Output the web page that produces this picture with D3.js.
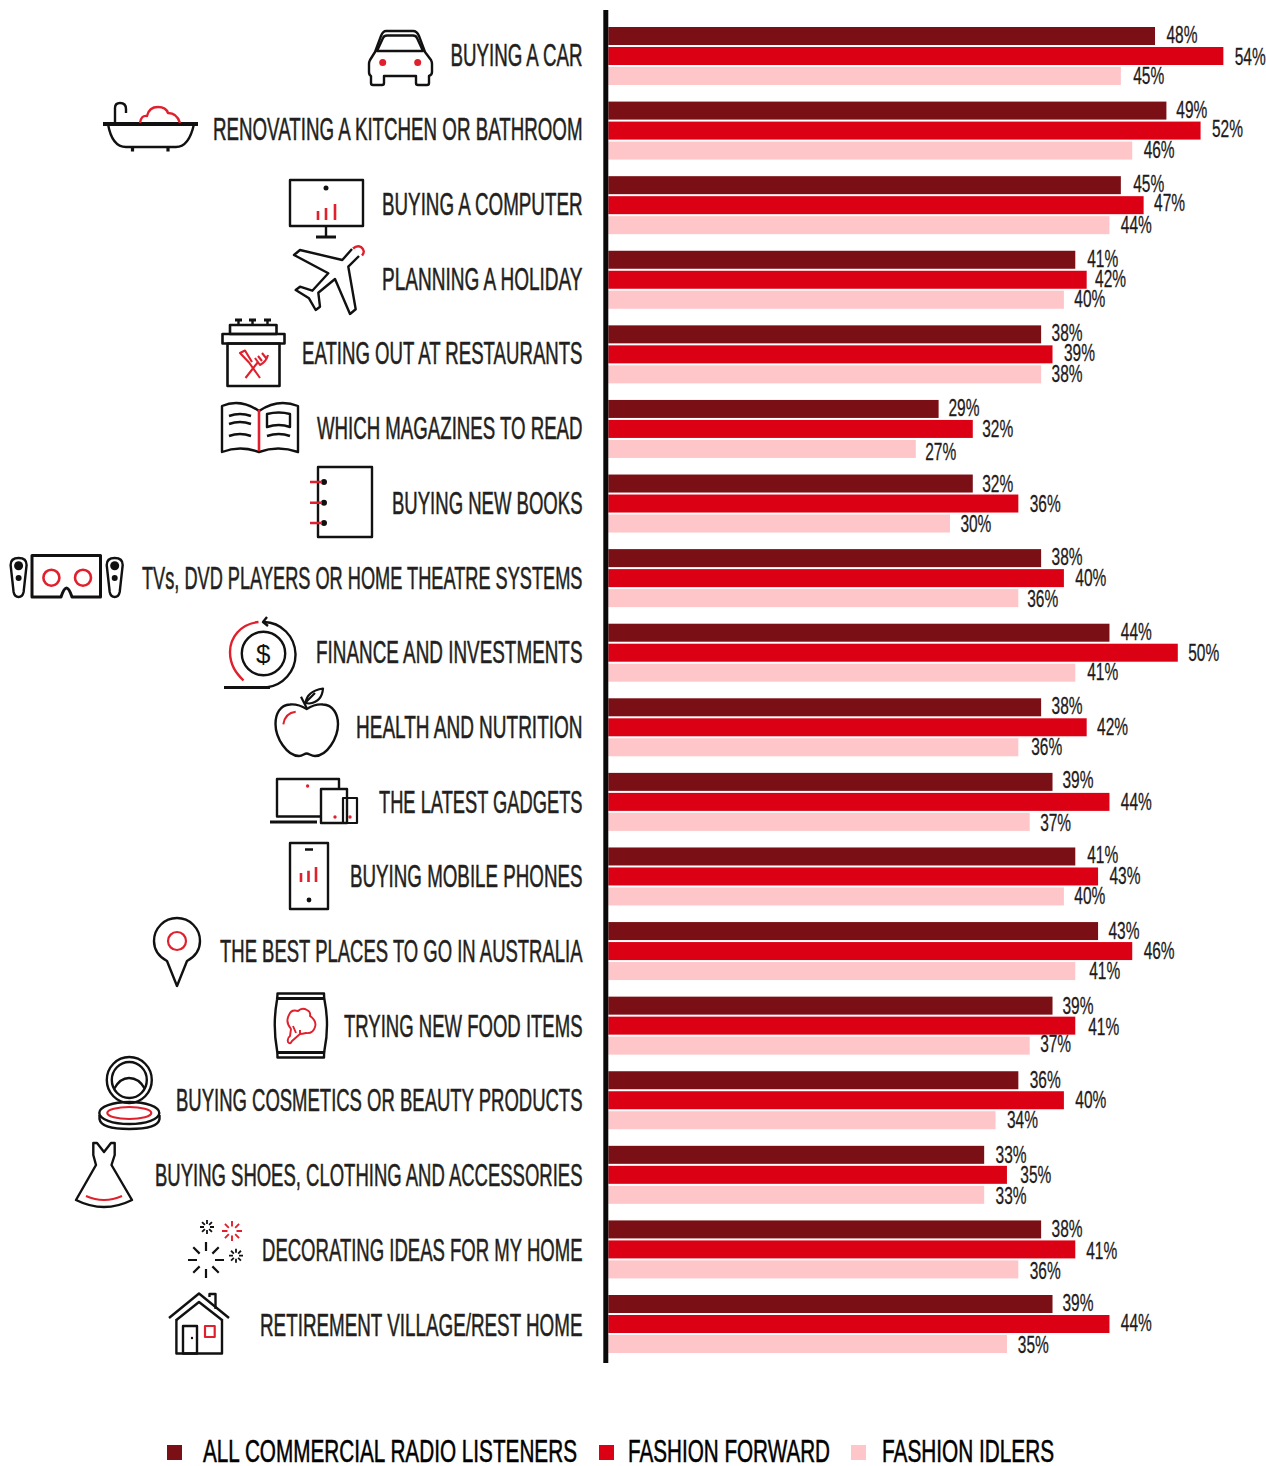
<!DOCTYPE html>
<html><head><meta charset="utf-8">
<style>html,body{margin:0;padding:0;background:#fff}svg{display:block}
text{font-family:"Liberation Sans Narrow","Liberation Sans",sans-serif}</style>
<script src="https://cdn.jsdelivr.net/npm/d3@7/dist/d3.min.js"></script></head><body>
<svg id="c" width="1266" height="1466"></svg>
<script>
const categories=["BUYING A CAR","RENOVATING A KITCHEN OR BATHROOM","BUYING A COMPUTER","PLANNING A HOLIDAY","EATING OUT AT RESTAURANTS","WHICH MAGAZINES TO READ","BUYING NEW BOOKS","TVs, DVD PLAYERS OR HOME THEATRE SYSTEMS","FINANCE AND INVESTMENTS","HEALTH AND NUTRITION","THE LATEST GADGETS","BUYING MOBILE PHONES","THE BEST PLACES TO GO IN AUSTRALIA","TRYING NEW FOOD ITEMS","BUYING COSMETICS OR BEAUTY PRODUCTS","BUYING SHOES, CLOTHING AND ACCESSORIES","DECORATING IDEAS FOR MY HOME","RETIREMENT VILLAGE/REST HOME"];
const seriesNames=["ALL COMMERCIAL RADIO LISTENERS","FASHION FORWARD","FASHION IDLERS"];
const allListeners=[48,49,45,41,38,29,32,38,44,38,39,41,43,39,36,33,38,39];
const fashionForward=[54,52,47,42,39,32,36,40,50,42,44,43,46,41,40,35,41,44];
const fashionIdlers=[45,46,44,40,38,27,30,36,41,36,37,40,41,37,34,33,36,35];
const seriesValues=[allListeners,fashionForward,fashionIdlers];

const colors=["#7a1015","#dc0014","#ffc6c9"];
const labelLeft=[450.5,213,382,382,302,317,392,142,316,356,379,350,220,344,176,155,262,260];
// small hand-placement nudges of the value labels, per row and series
const nudgeX=[[0,0,1],[-1.5,0,0],[1,-1,0],[.5,-3,-1],[-1,0,-1],[-1.5,-2,-2],[-2,0,-1],[-1,0,-2.5],[0,-1,.5],[-1,-1,1.5],[-1.5,0,-1],[.5,0,-1],[-1,0,2.5],[-1.5,1.5,-1],[0,0,0],[0,2,0],[-1,-.5,0],[-1.5,0,-.5]];
const nudgeY=[[-1,1,0],[-.5,-1.5,-.5],[-1,-2,0],[-1,-1,-1],[-1,-1,0],[-1,0,3],[0,0,0],[-1,0,1],[-1,0,-1],[-1,0,0],[-2,0,1],[-1,0,0],[0,0,0],[0,1,-2],[0,0,0],[0,0,1],[0,1.5,1.5],[-1,-1,1]];
const svg=d3.select("#c");
const x=d3.scaleLinear().domain([0,54]).range([608.3,608.3+54*11.39]);
const y0=d3.scaleBand().domain(categories).range([27,1353]).paddingInner(0.2225);
const y1=d3.scaleBand().domain(d3.range(3)).range([0,y0.bandwidth()]).paddingInner(0.1);
const labelY=d3.scalePoint().domain(categories).range([55,1325]);

const INK="#231f20";
const rows=svg.selectAll("g.row").data(categories).join("g").attr("class","row").attr("transform",d=>`translate(0,${y0(d)})`);
rows.each(function(cat,i){
  const g=d3.select(this);
  const recs=seriesValues.map((s,k)=>({k,v:s[i]}));
  g.selectAll("rect").data(recs).join("rect").attr("x",x(0)).attr("y",d=>y1(d.k)).attr("width",d=>x(d.v)-x(0)).attr("height",y1.bandwidth()).attr("fill",d=>colors[d.k]);
  g.selectAll("text.v").data(recs).join("text").attr("class","v").attr("x",d=>x(d.v)+11.4+nudgeX[i][d.k]).attr("y",d=>y1(d.k)+y1.bandwidth()/2+8+nudgeY[i][d.k])
    .attr("textLength",31).attr("lengthAdjust","spacingAndGlyphs").attr("font-size",23).attr("fill","#1f1b1c").attr("stroke","#1f1b1c").attr("stroke-width",.3).text(d=>d.v+"%");
});
svg.append("g").selectAll("text").data(categories).join("text").attr("x",(d,i)=>labelLeft[i]).attr("y",d=>labelY(d)+10.6)
  .attr("textLength",(d,i)=>582.5-labelLeft[i]).attr("lengthAdjust","spacingAndGlyphs")
  .attr("font-size",32).attr("fill",INK).attr("stroke",INK).attr("stroke-width",.55).text(d=>d);
// axis
svg.append("line").attr("x1",605.8).attr("x2",605.8).attr("y1",10).attr("y2",1363).attr("stroke","#0a0a0a").attr("stroke-width",5);
// legend
const legendSq=[167,599,851],legendTx=[[203,577],[628,830],[882,1054]];
seriesNames.forEach((n,k)=>{
  svg.append("rect").attr("x",legendSq[k]).attr("y",1445).attr("width",15).attr("height",15).attr("fill",colors[k]);
  svg.append("text").attr("x",legendTx[k][0]).attr("y",1462).attr("textLength",legendTx[k][1]-legendTx[k][0]).attr("lengthAdjust","spacingAndGlyphs")
    .attr("font-size",32).attr("fill","#000").attr("stroke","#000").attr("stroke-width",.55).text(n);
});

// icons (decorative line art)
const K="#111",R="#e0202c";
const ic=svg.append("g").attr("fill","none").attr("stroke-linejoin","round");
const P=(d,c=K,w=2.4)=>ic.append("path").attr("d",d).attr("stroke",c).attr("stroke-width",w);
const C=(cx,cy,r,c=K,w=2.4)=>ic.append("circle").attr("cx",cx).attr("cy",cy).attr("r",r).attr("stroke",c).attr("stroke-width",w);
const D=(cx,cy,r,c=K)=>ic.append("circle").attr("cx",cx).attr("cy",cy).attr("r",r).attr("fill",c);
const Q=(a,b,w,h,c=K,sw=2.4)=>ic.append("rect").attr("x",a).attr("y",b).attr("width",w).attr("height",h).attr("stroke",c).attr("stroke-width",sw);
const E=(cx,cy,rx,ry,c=K,w=2.4)=>ic.append("ellipse").attr("cx",cx).attr("cy",cy).attr("rx",rx).attr("ry",ry).attr("stroke",c).attr("stroke-width",w);
// car
P("M386,31H413Q417,31 419,36L425,52L431,60Q432,62 432,64V72Q432,75 429,76V83Q429,85 427,85H418Q416,85 416,83V76H384V83Q384,85 382,85H373Q371,85 371,83V76Q369,75 369,72V64Q369,62 370,60L375,52L381,36Q383,31 386,31Z");
P("M377,51L383,38Q384,35.5 387,35.5H413Q416,35.5 417,38L423,51Z");D(382.7,62.5,3.5,R);D(417.7,62.5,3.5,R);
// bath
P("M103,124H198",K,4);P("M108,124Q112,147 126,147H176Q189,147 194,124");P("M132.5,147V151.5M168,147V151.5",K,3.2);
P("M115,124V108Q115,103 120,103Q126,103 126,109V113");
P("M140,123Q141,115 147,116Q149,107 158,107Q166,107 168,113Q177,113 180,123",R);
// computer
Q(290,180,73,46);D(326,188,2.5);P("M318,220V211M326,220V208M335,220V204",R,2.6);P("M326,226V237");P("M316,237H336",K,3);
// plane
P("M352,249L342.3,260L300,250L294,255L328.3,273.3L312.3,290.7L300,286.7L295.7,290L309,298.3L315.7,310L320,306.7L318.3,292.7L335,279L350,314L355.7,309.3L348.3,266.7L359,256");
P("M353,248.5Q357,245 361,247Q366,251 362,255.5",R,2.4);
// restaurant jar
Q(222.5,334,62,9.5,K,2.6);Q(230,325,46.5,9,K,2.6);Q(227.5,343.5,52,42.5,K,2.6);
P("M238.5,325V320M252.5,325V320M267.5,325V320");P("M235,320H242M249,320H256M264,320H271",K,3);
P("M260,378L249,362.5L240,353L245,350.5L252,362",R,2.1);
P("M245.5,378L258,362M255,358L260,365Q266,362 268,355M258,356L262,361M262,353L266,358",R,2.1);
// magazine
P("M259,411Q240,398 222,406V452Q240,445 259,452Q278,445 298,452V406Q278,398 259,411");P("M259,410V451",R,2.6);
P("M229,416Q240,412 251,416M229,424Q240,420 251,424M229,436Q240,432 251,436M267,436Q279,432 290,436");P("M267,427V414Q279,411 290,414V427Q279,423 267,427Z");
// book
Q(318,467,54,70);D(324,482,3);D(324,502.7,3);D(324,523,3);P("M310,482H322M310,502.7H322M310,523H322",R,2.6);
// VR
P("M32,555.5H100.5V597H72Q69,588 66.5,588Q64,588 61,597H32Z",K,3);C(51.4,577.7,8,R,2.6);C(83,577.7,8,R,2.6);
[18.6,114.7].forEach(a=>{P(`M${a-8},565Q${a-8},558 ${a},558Q${a+8},558 ${a+8},565L${a+5},592Q${a+4},597 ${a},597Q${a-4},597 ${a-5},592Z`,K,2.4);D(a,565.7,4.5);D(a,578,3);});
// finance
C(263.5,653.5,21.7);P("M264,622A32,33 0 0 1 295.5,654A33,33 0 0 1 266,687.5H224");P("M224,687.5H270",K,3.2);P("M267,617L263,622L268,626");
P("M258.5,622C240,624 230,638 230,652C230,665 236,673 243.5,680.5",R,2.4);
ic.append("text").attr("x",263.3).attr("y",662.5).attr("text-anchor","middle").attr("font-size",26).attr("fill",K).text("$");
// apple
P("M306.7,709C300,705 295,704 290,704.5C280,705 275.5,714 275.5,724C275.5,738 287,756 299,756C303,756 304,753.5 306.7,753.5C309,753.5 311,756 315,756C327,756 338,738 338,724C338,714 333,705 323,704.5C318,704 313,705 306.7,709Z");
P("M301,696.7L306.7,708M305.5,703Q307,691 323,688.5Q322,702 309,703.5ZM305,703L315,693",K,2.2);P("M283.3,724.3Q285,713 295.7,711.7",R,2);
// gadgets
P("M321,816.5H277V779H339V789");P("M270,822H317",K,3);Q(321,789,26,34,K,2.4);Q(343,798,14,25,K,2.2);D(307.6,786,1.7,R);D(335,817,1.7,R);D(350,817,1.7,R);
// mobile
Q(290,843,38,66);P("M305,849.5H313",K,2.5);D(309,900,2.4);P("M301,882V873M308.5,882V870.7M316,882V867",R,2.6);
// pin
P("M177,986L167,961Q154,954 154,941A23,23 0 0 1 200,941Q200,954 187,961Z");C(177,941,9,R,2.2);
// food bag
P("M277.5,993.5H324Q324,998 324.5,1000Q329.5,1025 324.5,1050Q324,1053 324,1057.5H277.5Q277.5,1053 277,1050Q272.5,1025 277,1000Q277.5,996 277.5,993.5Z");
P("M278,998.5H324M278,1052.5H324",K,3);
P("M291,1029Q285,1022 289,1015Q291,1009 298,1011Q302,1007 307,1010Q311,1012 310,1016Q317,1021 315,1027Q313,1034 306,1033Q302,1034 300,1034L292,1041Q290,1045 288,1042Q287,1038 290,1036ZM293,1026L296,1033M300,1030L300,1034",R,1.9);
// compact
E(129.3,1080,22.5,23);E(129.3,1080,17.5,18);P("M114,1089Q120,1078 129,1078Q139,1078 145,1089");
E(129.3,1113,30,11);P("M99.5,1115V1119Q101,1129 129.3,1129Q158,1129 159.5,1119V1115");E(129.3,1113,22,6,R,2.2);
// dress
P("M93.3,1143V1155L96,1165L76,1200Q104,1214 132,1200L111.5,1165L114.7,1155V1143H111L104,1152L97,1143Z");P("M86,1196Q104,1204 122,1196",R,2.2);
// fireworks
const burst=(cx,cy,a,b,n,c,w)=>{let d="";for(let i=0;i<n;i++){const t=i*2*Math.PI/n;d+=`M${cx+a*Math.cos(t)},${cy+a*Math.sin(t)}L${cx+b*Math.cos(t)},${cy+b*Math.sin(t)}`;}P(d,c,w);};
burst(206,1260,9,18,8,K,2.2);burst(207,1227,3,7,8,K,1.8);burst(232,1231,4.5,10,8,R,1.9);burst(236,1255.7,3,7,8,K,1.8);
// house
P("M169,1318L199,1293.5L229,1318");P("M176.4,1320L199,1302L222,1320");P("M176.4,1319V1353.5H222V1319");Q(183,1326,14,27.5);D(192,1338,1.2);Q(205,1326,9.7,11,R,2.2);P("M209.5,1297V1294H215.5V1309");
</script></body></html>
